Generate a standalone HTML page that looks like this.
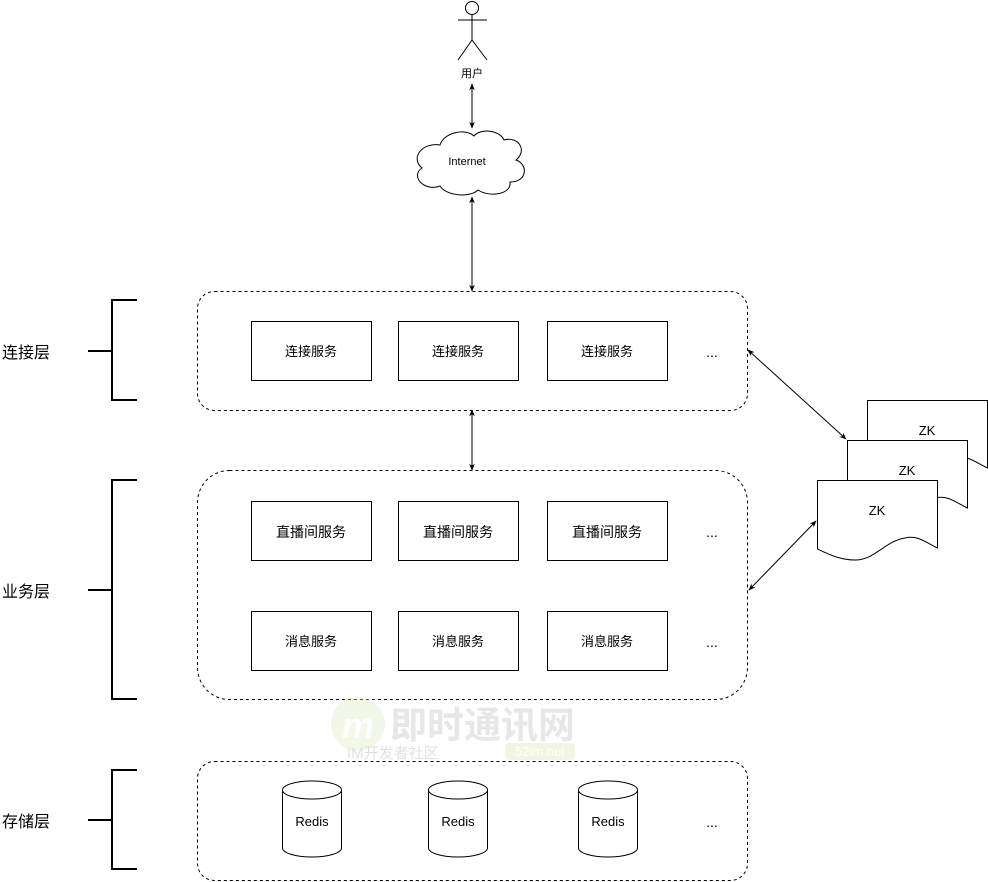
<!DOCTYPE html>
<html><head><meta charset="utf-8"><style>
html,body{margin:0;padding:0;background:#fff;}
svg{display:block;font-family:"Liberation Sans","Noto Sans CJK SC",sans-serif;}
</style></head><body>
<svg width="988" height="882" viewBox="0 0 988 882" xmlns="http://www.w3.org/2000/svg">
<defs>
<marker id="a" viewBox="0 0 10 10" refX="9" refY="5" markerWidth="7" markerHeight="7" orient="auto-start-reverse"><path d="M0,1 L10,5 L0,9 L3,5 z" fill="#000"/></marker>
</defs>
<rect width="988" height="882" fill="#fff"/>
<g stroke="#000" stroke-width="1" fill="none">
<circle cx="472" cy="8" r="6.5" fill="#fff"/>
<line x1="472" y1="14.5" x2="472" y2="40"/>
<line x1="458" y1="20" x2="487" y2="20"/>
<line x1="472" y1="40" x2="458" y2="60"/>
<line x1="472" y1="40" x2="487" y2="60"/>
</g>
<text x="472" y="77" font-size="11" text-anchor="middle">用户</text>
<line x1="472" y1="84" x2="472" y2="128" stroke="#000" marker-start="url(#a)" marker-end="url(#a)"/>
<path d="M440,145 C422,142 410,158 422,168 C410,176 424,192 440,186 C446,196 470,198 478,190 C490,198 512,194 510,182 C528,182 528,164 516,160 C528,150 518,136 504,140 C500,130 480,128 474,136 C466,128 444,132 440,145 Z" fill="#fff" stroke="#000"/>
<text x="467" y="165" font-size="11" text-anchor="middle">Internet</text>
<line x1="472" y1="197" x2="472" y2="291" stroke="#000" marker-start="url(#a)" marker-end="url(#a)"/>
<g fill="none" stroke="#000" stroke-dasharray="3,3">
<rect x="197.5" y="291.5" width="550" height="119" rx="17"/>
<rect x="197.5" y="470.5" width="550" height="229" rx="32"/>
<rect x="197.5" y="761.5" width="550" height="119" rx="17"/>
</g>
<line x1="472" y1="410" x2="472" y2="470" stroke="#000" marker-start="url(#a)" marker-end="url(#a)"/>
<g fill="#fff" stroke="#000">
<rect x="251.5" y="321.5" width="120" height="59"/>
<rect x="398.5" y="321.5" width="120" height="59"/>
<rect x="547.5" y="321.5" width="120" height="59"/>
<rect x="251.5" y="501.5" width="120" height="59"/>
<rect x="398.5" y="501.5" width="120" height="59"/>
<rect x="547.5" y="501.5" width="120" height="59"/>
<rect x="251.5" y="611.5" width="120" height="59"/>
<rect x="398.5" y="611.5" width="120" height="59"/>
<rect x="547.5" y="611.5" width="120" height="59"/>
</g>
<g font-size="13" text-anchor="middle">
<text x="311" y="356">连接服务</text><text x="458" y="356">连接服务</text><text x="607" y="356">连接服务</text>
<text x="311" y="537" font-size="14">直播间服务</text><text x="458" y="537" font-size="14">直播间服务</text><text x="607" y="537" font-size="14">直播间服务</text>
<text x="311" y="646">消息服务</text><text x="458" y="646">消息服务</text><text x="607" y="646">消息服务</text>
<text x="712" y="357" font-size="14">...</text><text x="712" y="537" font-size="14">...</text><text x="712" y="647" font-size="14">...</text><text x="712" y="827" font-size="14">...</text>
</g>
<g fill="#fff" stroke="#000">
<path d="M282.5,790 A29.5,9 0 0 1 341.5,790 L341.5,848 A29.5,9 0 0 1 282.5,848 Z"/><path d="M282.5,790 A29.5,9 0 0 0 341.5,790" fill="none"/>
<path d="M428.5,790 A29.5,9 0 0 1 487.5,790 L487.5,848 A29.5,9 0 0 1 428.5,848 Z"/><path d="M428.5,790 A29.5,9 0 0 0 487.5,790" fill="none"/>
<path d="M578.5,790 A29.5,9 0 0 1 637.5,790 L637.5,848 A29.5,9 0 0 1 578.5,848 Z"/><path d="M578.5,790 A29.5,9 0 0 0 637.5,790" fill="none"/>
</g>
<g font-size="13" text-anchor="middle"><text x="312" y="826">Redis</text><text x="458" y="826">Redis</text><text x="608" y="826">Redis</text></g>
<g stroke="#000" stroke-width="2" fill="none">
<path d="M88,351 H112 M137,300 H112 V400 H137"/>
<path d="M88,590 H112 M137,480 H112 V699 H137"/>
<path d="M88,820 H112 M137,770 H112 V869 H137"/>
</g>
<g font-size="16"><text x="2" y="358">连接层</text><text x="2" y="597">业务层</text><text x="2" y="827">存储层</text></g>
<g fill="#fff" stroke="#000">
<path d="M867.5,400.5 H987.5 V468 C975,462 968,455 955,458 C940,461 930,474 915,474 C895,474 880,466 867.5,462 Z"/>
<path d="M847.5,440.5 H967.5 V508 C955,502 948,495 935,498 C920,501 910,514 895,514 C875,514 860,506 847.5,502 Z"/>
<path d="M817.5,480.5 H937.5 V548 C925,542 918,535 905,538 C885,541 875,560 855,560 C840,560 828,554 817.5,549 Z"/>
</g>
<g font-size="13" text-anchor="middle"><text x="927" y="435">ZK</text><text x="907" y="475">ZK</text><text x="877" y="515">ZK</text></g>
<line x1="748" y1="350" x2="846" y2="439" stroke="#000" marker-start="url(#a)" marker-end="url(#a)"/>
<line x1="749" y1="590" x2="816" y2="521" stroke="#000" marker-start="url(#a)" marker-end="url(#a)"/>
<g opacity="0.35">
<circle cx="358" cy="724" r="27" fill="#dfeac0"/>
<text x="358" y="738" font-size="36" font-style="italic" font-weight="bold" fill="#fff" text-anchor="middle">m</text>
<text x="390" y="738" font-size="37" font-weight="bold" fill="#bbb">即时通讯网</text>
<text x="347" y="758" font-size="15" fill="#aaa">IM开发者社区</text>
<rect x="505" y="743" width="70" height="17" rx="4" fill="#d8e6b0"/>
<text x="540" y="756" font-size="13" fill="#fff" text-anchor="middle">52im.net</text>
</g>
</svg>
</body></html>
